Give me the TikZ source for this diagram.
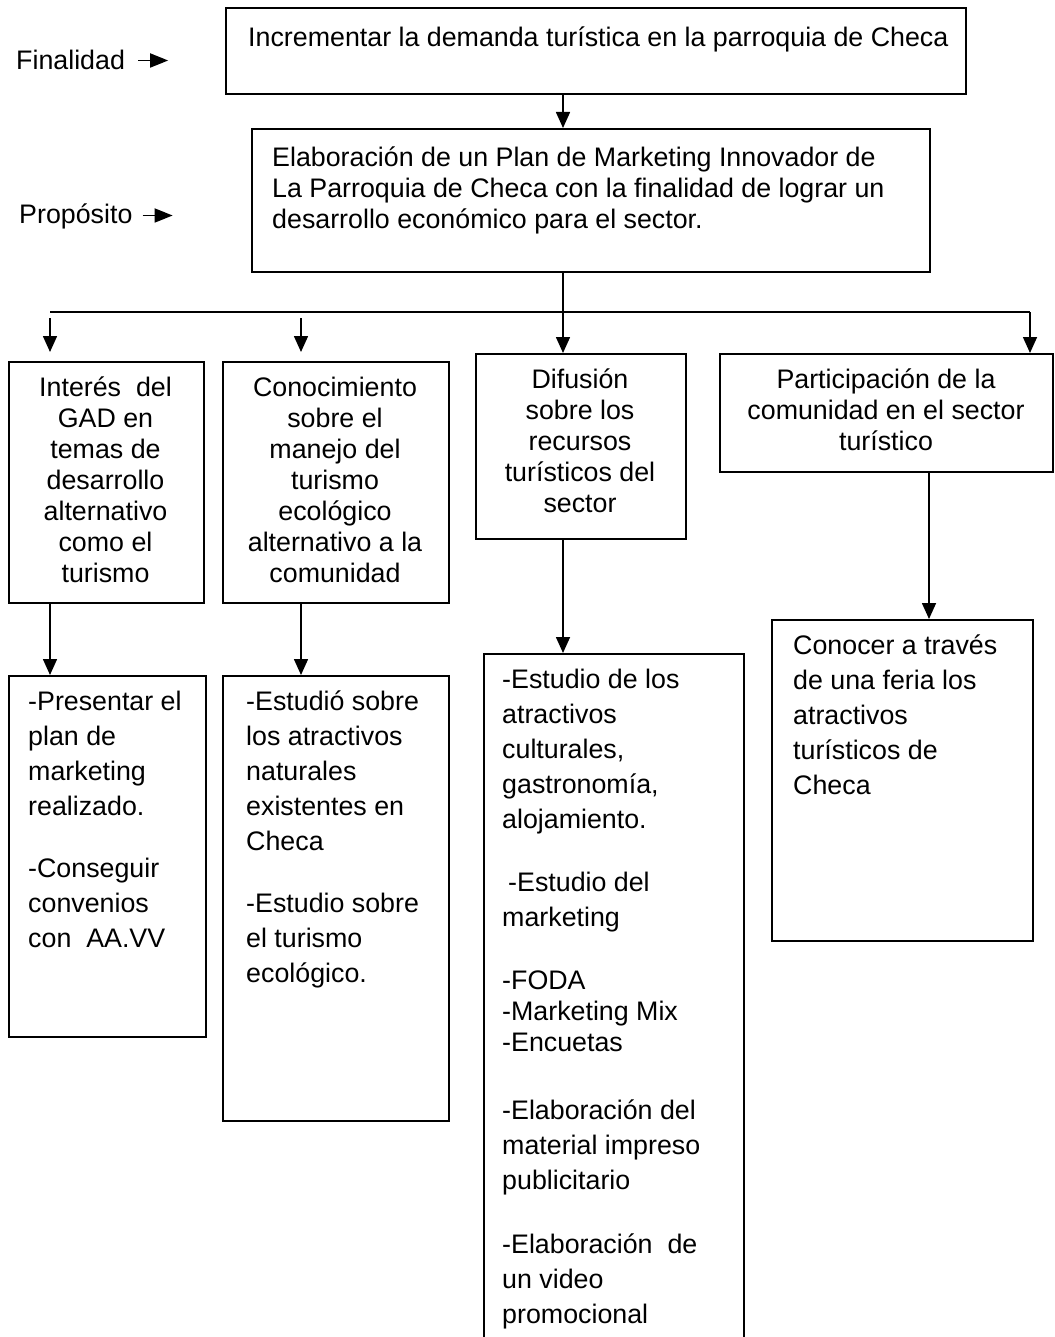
\documentclass[tikz,border=0pt]{standalone}
\usepackage{fontspec}
\setmainfont{Liberation Sans}
\usetikzlibrary{arrows.meta,positioning}

\begin{document}
\begin{tikzpicture}[x=1pt, y=1pt,
		caja/.style={draw, line width=1.6pt, anchor=north west, inner sep=0pt},
		texto/.style={anchor=north west, inner sep=0pt, align=left, execute at begin node=\strut, font=\fontsize{26.8}{35}\selectfont},
		linea/.style={anchor=north west, inner sep=0pt, align=left, execute at begin node=\strut, font=\fontsize{26.8}{31}\selectfont},
		centro/.style={anchor=north, inner sep=0pt, align=center, execute at begin node=\strut, font=\fontsize{26.8}{31}\selectfont},
		flecha/.style={line width=1.6pt, -{Triangle[width=14pt,length=16pt]}},
		flechita/.style={line width=1.8pt, -{Triangle[width=14pt,length=18pt]}}]
	\useasboundingbox (0,0) rectangle (1054,-1337);
	% cajas
	\draw
		(225,-7) node [caja, minimum width=740pt, minimum height=86pt] (fin) {}
		(251,-128) node [caja, minimum width=678pt, minimum height=143pt] (prop) {}
		(8,-361) node [caja, minimum width=195pt, minimum height=241pt] (c1) {}
		(222,-361) node [caja, minimum width=226pt, minimum height=241pt] (c2) {}
		(475,-353) node [caja, minimum width=210pt, minimum height=185pt] (c3) {}
		(719,-353) node [caja, minimum width=333pt, minimum height=118pt] (c4) {}
		(8,-675) node [caja, minimum width=197pt, minimum height=361pt] (a1) {}
		(222,-675) node [caja, minimum width=226pt, minimum height=445pt] (a2) {}
		(483,-653) node [caja, minimum width=260pt, minimum height=700pt] (a3) {}
		(771,-619) node [caja, minimum width=261pt, minimum height=321pt] (a4) {}
		;
	% textos
	\draw
		(16,-47.8) node [linea] (lfin) {Finalidad}
		(19,-201.8) node [linea] (lprop) {Propósito}
		(248,-24.8) node [linea] (tfin) {Incrementar la demanda turística en la parroquia de Checa}
		(272,-146.8) node [linea] (tprop) {Elaboración de un Plan de Marketing Innovador de\\La Parroquia de Checa con la finalidad de lograr un\\desarrollo económico para el sector.}
		(105.5,-377) node [centro] (tc1) {Interés\ \ del\\GAD en\\temas de\\desarrollo\\alternativo\\como el\\turismo}
		(335,-377) node [centro] (tc2) {Conocimiento\\sobre el\\manejo del\\turismo\\ecológico\\alternativo a la\\comunidad}
		(580,-368.8) node [centro] (tc3) {Difusión\\sobre los\\recursos\\turísticos del\\sector}
		(886,-368.8) node [centro] (tc4) {Participación de la\\comunidad en el sector\\turístico}
		(28,-691) node [texto] (ta1) {-Presentar el\\plan de\\marketing\\realizado.\\[27pt]-Conseguir\\convenios\\con\ \ AA.VV}
		(246,-691) node [texto] (ta2) {-Estudió sobre\\los atractivos\\naturales\\existentes en\\Checa\\[27pt]-Estudio sobre\\el turismo\\ecológico.}
		(502,-669) node [texto] (ta3) {-Estudio de los\\atractivos\\culturales,\\gastronomía,\\alojamiento.\\[28pt]\hspace*{6pt}-Estudio del\\marketing\\[28pt]-FODA\\[-4pt]-Marketing Mix\\[-4pt]-Encuetas\\[33pt]-Elaboración del\\material impreso\\publicitario\\[29pt]-Elaboración\ \ de\\un video\\promocional}
		(793,-635) node [texto] (ta4) {Conocer a través\\de una feria los\\atractivos\\turísticos de\\Checa}
		;
	% ejes de las flechas
	\coordinate (eje) at (563,0);
	\coordinate (eje1) at (50,-312);
	\coordinate (eje2) at (301,-312);
	\coordinate (eje4) at (1030,-312);
	\coordinate (eje4b) at (929,0);
	\draw[flechita] ([xshift=13pt,yshift=3pt]lfin.east) -- ++(30,0);
	\draw[flechita] ([xshift=10pt,yshift=2pt]lprop.east) -- ++(30,0);
	\draw[flecha] (fin.south -| eje) -- (prop.north -| eje);
	\draw[flecha] (prop.south -| eje) -- (c3.north -| eje);
	\draw[line width=1.6pt] (eje1) -- (eje4);
	\draw[flecha] (eje4) -- (c4.north -| eje4);
	\draw[flecha, shorten <=6pt, shorten >=9pt] (eje1) -- (c1.north -| eje1);
	\draw[flecha, shorten <=6pt, shorten >=9pt] (eje2) -- (c2.north -| eje2);
	\draw[flecha] (c1.south -| eje1) -- (a1.north -| eje1);
	\draw[flecha] (c2.south -| eje2) -- (a2.north -| eje2);
	\draw[flecha] (c3.south -| eje) -- (a3.north -| eje);
	\draw[flecha] (c4.south -| eje4b) -- (a4.north -| eje4b);
\end{tikzpicture}
\end{document}
